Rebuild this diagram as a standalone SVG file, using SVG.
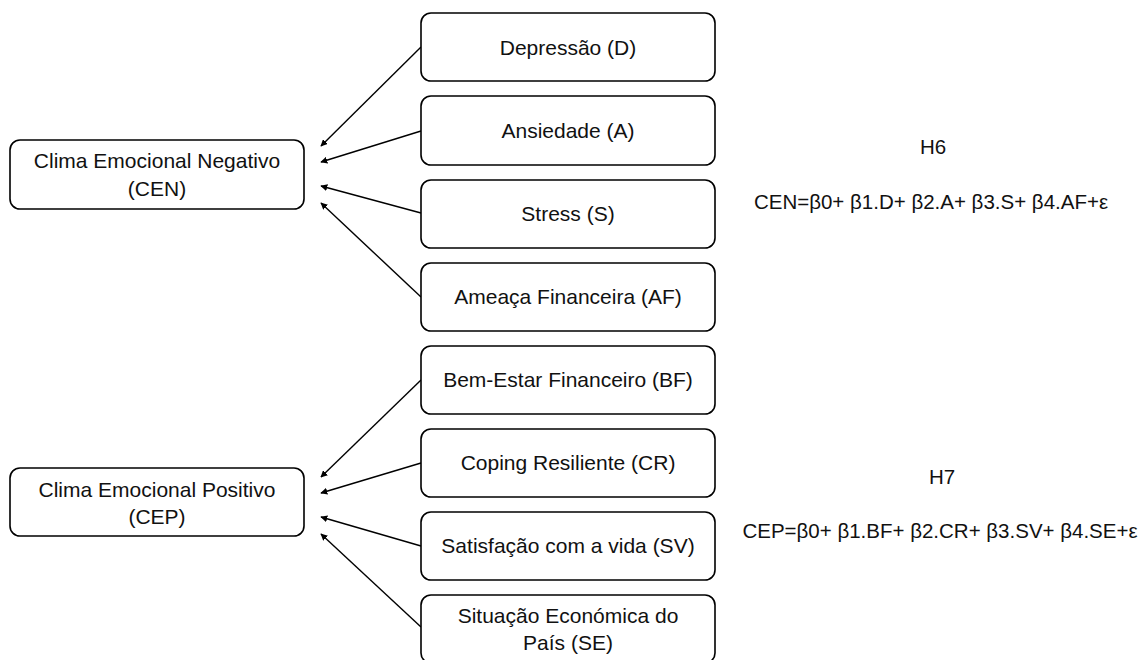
<svg xmlns="http://www.w3.org/2000/svg" width="1145" height="660" viewBox="0 0 1145 660">
<defs>
<marker id="ah" viewBox="0 0 10 10" refX="9" refY="5" markerWidth="7" markerHeight="7" markerUnits="userSpaceOnUse" orient="auto">
<path d="M0,0 L10,5 L0,10 z" fill="#000"/>
</marker>
</defs>
<style>
.box{fill:#fff;stroke:#000;stroke-width:1.6}
.t{font-family:"Liberation Sans",Arial,sans-serif;font-size:21px;fill:#111;text-anchor:middle}
.eq{font-family:"Liberation Sans",Arial,sans-serif;font-size:20.5px;fill:#111;text-anchor:middle}
.c{stroke:#000;stroke-width:1.4;fill:none;marker-end:url(#ah)}
</style>
<rect width="1145" height="660" fill="#fff"/>
<g id="connectors">
<line class="c" x1="421" y1="47" x2="321" y2="146"/>
<line class="c" x1="421" y1="131" x2="321" y2="162"/>
<line class="c" x1="421" y1="213" x2="321" y2="186"/>
<line class="c" x1="421" y1="297" x2="321" y2="203"/>
<line class="c" x1="421" y1="380" x2="321" y2="477"/>
<line class="c" x1="421" y1="463" x2="321" y2="493"/>
<line class="c" x1="421" y1="546" x2="321" y2="517"/>
<line class="c" x1="421" y1="627" x2="321" y2="534"/>
</g>
<g id="CEN"><rect class="box" x="10" y="140" width="294" height="69" rx="10"/><text class="t" x="157" y="168">Clima Emocional Negativo</text><text class="t" x="157" y="196">(CEN)</text></g>
<g id="CEP"><rect class="box" x="10" y="468" width="294" height="68" rx="10"/><text class="t" x="157" y="497">Clima Emocional Positivo</text><text class="t" x="157" y="524">(CEP)</text></g>
<g id="D"><rect class="box" x="421" y="13" width="294" height="68" rx="10"/><text class="t" x="568" y="55">Depressão (D)</text></g>
<g id="A"><rect class="box" x="421" y="96" width="294" height="69" rx="10"/><text class="t" x="568" y="138">Ansiedade (A)</text></g>
<g id="S"><rect class="box" x="421" y="180" width="294" height="68" rx="10"/><text class="t" x="568" y="221">Stress (S)</text></g>
<g id="AF"><rect class="box" x="421" y="263" width="294" height="68" rx="10"/><text class="t" x="568" y="304">Ameaça Financeira (AF)</text></g>
<g id="BF"><rect class="box" x="421" y="346" width="294" height="68" rx="10"/><text class="t" x="568" y="387">Bem-Estar Financeiro (BF)</text></g>
<g id="CR"><rect class="box" x="421" y="429" width="294" height="68" rx="10"/><text class="t" x="568" y="470">Coping Resiliente (CR)</text></g>
<g id="SV"><rect class="box" x="421" y="512" width="294" height="68" rx="10"/><text class="t" x="568" y="553">Satisfação com a vida (SV)</text></g>
<g id="SE"><rect class="box" x="421" y="595" width="294" height="68" rx="10"/><text class="t" x="568" y="623">Situação Económica do</text><text class="t" x="568" y="650">País (SE)</text></g>
<g id="H6"><text class="eq" x="933" y="154">H6</text><text class="eq" x="931" y="209">CEN=β0+ β1.D+ β2.A+ β3.S+ β4.AF+ε</text></g>
<g id="H7"><text class="eq" x="942" y="484">H7</text><text class="eq" x="940" y="538">CEP=β0+ β1.BF+ β2.CR+ β3.SV+ β4.SE+ε</text></g>
</svg>
